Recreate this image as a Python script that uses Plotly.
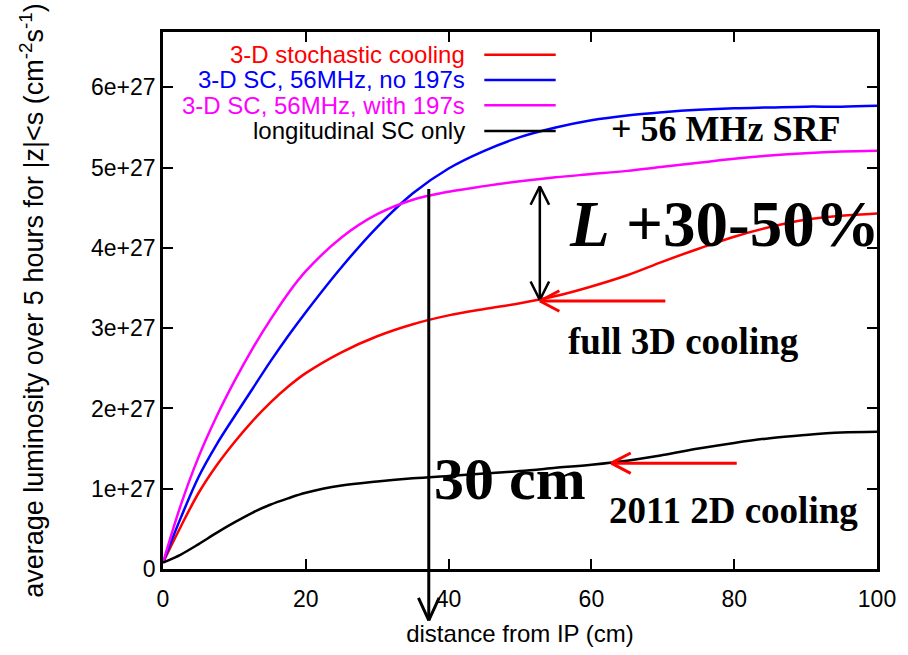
import plotly.graph_objects as go

# ---- data ----
x_cm = [0, 2.5, 5, 7.5, 10, 12.5, 15, 17.5, 20, 25, 30, 35, 40, 45, 50, 55, 60, 65, 70, 75, 80, 85, 90, 95, 100]

lumi_3d_stochastic = [0.08, 0.53, 0.95, 1.29, 1.58, 1.84, 2.07, 2.27, 2.44, 2.70, 2.90, 3.05, 3.16, 3.24, 3.31,
                      3.40, 3.52, 3.66, 3.83, 3.99, 4.14, 4.26, 4.35, 4.40, 4.43]
lumi_3d_56mhz_no197 = [0.08, 0.64, 1.15, 1.55, 1.90, 2.24, 2.58, 2.90, 3.20, 3.76, 4.26, 4.68, 4.99, 5.21, 5.38,
                       5.50, 5.59, 5.65, 5.69, 5.72, 5.74, 5.75, 5.76, 5.76, 5.77]
lumi_3d_56mhz_with197 = [0.08, 0.80, 1.40, 1.90, 2.34, 2.74, 3.10, 3.43, 3.71, 4.13, 4.42, 4.60, 4.70, 4.77, 4.83,
                         4.88, 4.92, 4.96, 5.01, 5.06, 5.11, 5.15, 5.18, 5.20, 5.21]
lumi_long_only = [0.08, 0.18, 0.31, 0.45, 0.58, 0.70, 0.80, 0.88, 0.95, 1.04, 1.09, 1.13, 1.16, 1.19, 1.22,
                  1.26, 1.30, 1.35, 1.42, 1.50, 1.57, 1.63, 1.67, 1.70, 1.71]
UNIT = 1e27

series_names = ["3-D stochastic cooling", "3-D SC, 56MHz, no 197s", "3-D SC, 56MHz, with 197s", "longitudinal SC only"]
series_values = [lumi_3d_stochastic, lumi_3d_56mhz_no197, lumi_3d_56mhz_with197, lumi_long_only]
series_colors = ["#ff0000", "#0000ff", "#ff00ff", "#000000"]

y_tick_vals = [0, 1, 2, 3, 4, 5, 6]
y_tick_text = ["0", "1e+27", "2e+27", "3e+27", "4e+27", "5e+27", "6e+27"]
x_tick_vals = [0, 20, 40, 60, 80, 100]

# ---- layout geometry (pixels) ----
W, H = 908, 655
L, R, T, B = 163, 25, 32, 80
PW, PH = W - L - R, H - T - B
Y_MAX = 6.69


def px(xp):  # pixel -> paper x
    return (xp - L) / PW


def py(yp):  # pixel -> paper y
    return (H - B - yp) / PH


fig = go.Figure()
for name, vals, col in zip(series_names, series_values, series_colors):
    fig.add_trace(go.Scatter(x=x_cm, y=[v * UNIT for v in vals], mode="lines", name=name,
                             line=dict(color=col, width=2.5, shape="spline", smoothing=1.0),
                             showlegend=False))

annotations = []
shapes = []

# manual legend (text right-aligned, sample line to the right)
legend_rows = [55, 80.5, 106, 132]
for name, col, yr in zip(series_names, series_colors, legend_rows):
    annotations.append(dict(xref="paper", yref="paper", x=px(470), y=py(yr), text=name, showarrow=False,
                            xanchor="right", yanchor="middle",
                            font=dict(family="Liberation Sans, Arial", size=24, color=col)))
    shapes.append(dict(type="line", xref="paper", yref="paper", x0=px(487), x1=px(559), y0=py(yr), y1=py(yr),
                       line=dict(color=col, width=2.5)))


def seg(x0p, y0p, x1p, y1p, color="black", width=2.5):
    annotations.append(dict(xref="paper", yref="paper", axref="pixel", ayref="pixel",
                            x=px(x1p), y=py(y1p), ax=x0p - x1p, ay=y0p - y1p,
                            text="", showarrow=True, arrowhead=0, arrowwidth=width,
                            arrowcolor=color, standoff=0, startstandoff=0))


# vertical arrow at 30 cm marker
seg(431, 194, 431, 627, width=3)
seg(420, 603, 431, 627, width=3)
seg(442, 603, 431, 627, width=3)

# double arrow
seg(543, 188, 543, 303, width=2.5)
seg(533, 208, 543, 188, width=2.5)
seg(553, 208, 543, 188, width=2.5)
seg(533, 283, 543, 303, width=2.5)
seg(553, 283, 543, 303, width=2.5)

# red arrows
seg(670, 304, 543, 304, color="#ff0000", width=3)
seg(564, 293, 543, 304, color="#ff0000", width=3)
seg(564, 315, 543, 304, color="#ff0000", width=3)

seg(742, 468, 615, 468, color="#ff0000", width=3)
seg(636, 457, 615, 468, color="#ff0000", width=3)
seg(636, 479, 615, 468, color="#ff0000", width=3)

serif = "Liberation Serif, Times New Roman"
texts = [
    ("<b>+ 56 MHz SRF</b>", 730, 130, 36),
    ("<b><i>L</i> +30-50%</b>", 729, 226, 65),
    ("<b>full 3D cooling</b>", 688, 345, 37),
    ("<b>30 cm</b>", 513, 484, 60),
    ("<b>2011 2D cooling</b>", 738, 516, 37),
]
for t, xc, yc, fs in texts:
    annotations.append(dict(xref="paper", yref="paper", x=px(xc), y=py(yc), text=t, showarrow=False,
                            xanchor="center", yanchor="middle",
                            font=dict(family=serif, size=fs, color="black")))

axis_common = dict(showline=True, linecolor="black", linewidth=2.5, mirror="ticks", ticks="inside",
                   ticklen=10, tickwidth=2, tickcolor="black", showgrid=False, zeroline=False,
                   tickfont=dict(family="Liberation Sans, Arial", size=23, color="black"))

fig.update_layout(
    width=W, height=H,
    margin=dict(l=L, r=R, t=T, b=B),
    paper_bgcolor="white", plot_bgcolor="white",
    xaxis=dict(range=[0, 100], tickvals=x_tick_vals, ticklabelstandoff=8,
               title=dict(text="distance from IP (cm)", standoff=14,
                          font=dict(family="Liberation Sans, Arial", size=24, color="black")),
               **axis_common),
    yaxis=dict(range=[0, Y_MAX * UNIT], tickvals=[v * UNIT for v in y_tick_vals], ticktext=y_tick_text,
               title=dict(text="average luminosity over 5 hours for |z|&lt;s (cm<sup>-2</sup>s<sup>-1</sup>)",
                          standoff=40,
                          font=dict(family="Liberation Sans, Arial", size=27, color="black")),
               **axis_common),
    annotations=annotations,
    shapes=shapes,
)

fig.write_html("out.html")
